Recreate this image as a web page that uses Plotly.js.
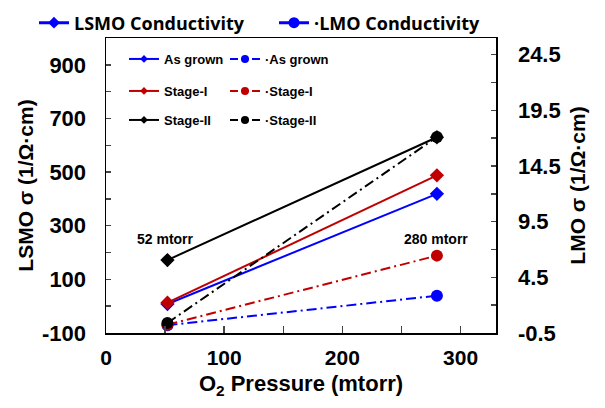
<!DOCTYPE html>
<html><head><meta charset="utf-8">
<script src="https://cdn.plot.ly/plotly-3.0.1.min.js"></script>
<style>body{margin:0;background:#fff}#chart{width:605px;height:408px}</style>
</head><body><div id="chart"></div>
<script>
const pressure = [52, 280];
const stages = ["As grown", "Stage-I", "Stage-II"];
const colors = ["#0000ff", "#c00000", "#000000"];
const lsmoSigma = [[8, 419], [13, 488], [172, 630]];
const lmoSigma = [[0.2, 2.85], [0.25, 6.45], [0.4, 17.1]];
const lsmoTickVals = [-100, 100, 300, 500, 700, 900];
const lsmoTickText = ["-100", "100", "300", "500", "700", "900"];
const lmoTickVals = [-0.5, 4.5, 9.5, 14.5, 19.5, 24.5];
const lmoTickText = ["-0.5", "4.5", "9.5", "14.5", "19.5", "24.5"];
const labelTexts = ["52 mtorr", "280 mtorr"];
const labelX = [50, 279];
const labelY = [250, 250];

const F = "Liberation Sans, Arial, sans-serif";
const DD = '10px,4px,2px,4px';
const traces = [];
// top legend entries
traces.push({x:[null], y:[null], type:'scatter', mode:'lines+markers', name:'LSMO Conductivity',
  line:{color:'#0000ff', width:3}, marker:{symbol:'diamond', size:9, color:'#0000ff'}, legend:'legend'});
traces.push({x:[null], y:[null], type:'scatter', mode:'lines+markers', name:'·LMO Conductivity',
  line:{color:'#0000ff', width:3, dash:DD}, marker:{symbol:'circle', size:11, color:'#0000ff'}, legend:'legend2'});
// data traces
stages.forEach((s, i) => {
  traces.push({x: pressure, y: lsmoSigma[i], type:'scatter', mode:'lines+markers', name: s, showlegend:false,
    line:{color: colors[i], width:2}, marker:{symbol:'diamond', size:11, color: colors[i]}, yaxis:'y'});
});
stages.forEach((s, i) => {
  traces.push({x: pressure, y: lmoSigma[i], type:'scatter', mode:'lines+markers', name: '·' + s, showlegend:false,
    line:{color: colors[i], width:2, dash:DD}, marker:{symbol:'circle', size:12, color: colors[i]}, yaxis:'y2'});
});
// inner legend entries
stages.forEach((s, i) => {
  traces.push({x:[null], y:[null], type:'scatter', mode:'lines+markers', name: s,
    line:{color: colors[i], width:2}, marker:{symbol:'diamond', size:6, color: colors[i]}, legend:'legend' + (3 + i)});
  traces.push({x:[null], y:[null], type:'scatter', mode:'lines+markers', name: '·' + s,
    line:{color: colors[i], width:2, dash:'8px,3px'}, marker:{symbol:'circle', size:8, color: colors[i]}, legend:'legend' + (6 + i)});
});

const X0 = 106, X1 = 496, Y0 = 38, Y1 = 333;
const px = v => (v - X0) / (X1 - X0);
const py = v => (Y1 - v) / (Y1 - Y0);
function leg(x, y, size, fam) {
  return {x: px(x), y: py(y), xanchor:'left', yanchor:'middle', bgcolor:'rgba(0,0,0,0)',
    borderwidth:0, font:{family: fam, size: size, weight:'bold', color:'#000'}};
}
const innerY = [59, 91, 120];
const layout = {
  width:605, height:408, margin:{l:X0, r:605-X1, t:Y0, b:408-Y1, autoexpand:false},
  paper_bgcolor:'#fff', plot_bgcolor:'#fff', showlegend:true,
  font:{family:F, color:'#000'},
  legend: leg(34, 23, 18, 'Open Sans, sans-serif'),
  legend2: leg(274, 23, 18, 'Open Sans, sans-serif'),
  legend3: leg(124, innerY[0], 13, F),
  legend4: leg(124, innerY[1], 13, F),
  legend5: leg(124, innerY[2], 13, F),
  legend6: leg(225, innerY[0], 13, F),
  legend7: leg(225, innerY[1], 13, F),
  legend8: leg(225, innerY[2], 13, F),
  xaxis:{range:[0,330], tick0:0, dtick:100, ticks:'inside', ticklen:7, tickwidth:1.5,
    minor:{dtick:50, ticks:'inside', ticklen:7, tickwidth:1.5},
    showline:true, linecolor:'#000', linewidth:1.5, mirror:true, showgrid:false, zeroline:false,
    tickfont:{family:F, size:21, weight:'bold'}, ticklabelstandoff:5,
    title:{text:'O<sub>2</sub> Pressure (mtorr)', font:{family:F, size:22, weight:'bold'}, standoff:8}},
  yaxis:{range:[-100,1000], tickmode:'array', tickvals:lsmoTickVals, ticktext:lsmoTickText,
    ticks:'inside', ticklen:5, tickwidth:1.5,
    minor:{tick0:-100, dtick:100, ticks:'inside', ticklen:5, tickwidth:1.5},
    showline:true, linecolor:'#000', linewidth:1.5, showgrid:false, zeroline:false,
    tickfont:{family:F, size:22, weight:'bold'}, ticklabelstandoff:14,
    title:{text:'LSMO σ (1/Ω·cm)', font:{family:F, size:21, weight:'bold'}, standoff:2}},
  yaxis2:{overlaying:'y', side:'right', range:[-0.5,26], tickmode:'array', tickvals:lmoTickVals, ticktext:lmoTickText,
    ticks:'inside', ticklen:5, tickwidth:1.5,
    minor:{tick0:-0.5, dtick:2.5, ticks:'inside', ticklen:5, tickwidth:1.5},
    showline:true, linecolor:'#000', linewidth:1.5, showgrid:false, zeroline:false,
    tickfont:{family:F, size:22, weight:'bold'}, ticklabelstandoff:16,
    title:{text:'LMO σ (1/Ω·cm)', font:{family:F, size:21, weight:'bold'}, standoff:10}},
  annotations: labelTexts.map((t, i) => ({x: labelX[i], y: labelY[i], xref:'x', yref:'y', text: t,
    showarrow:false, font:{family:F, size:14, weight:'bold', color:'#000'}}))
};
Plotly.newPlot('chart', traces, layout, {displayModeBar:false, staticPlot:true});
</script></body></html>
